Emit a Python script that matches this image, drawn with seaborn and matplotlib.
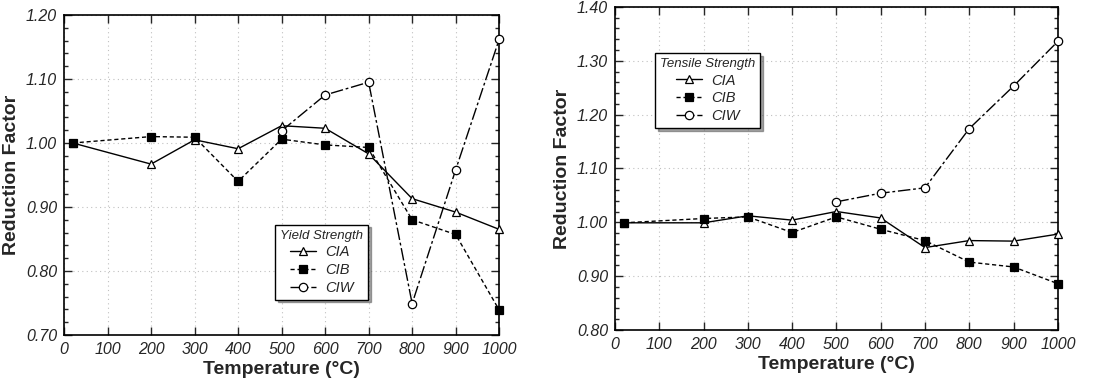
import numpy as np
import pandas as pd
import matplotlib
matplotlib.use("Agg")
import matplotlib.pyplot as plt
from matplotlib.ticker import MultipleLocator
import seaborn as sns

# data
temps = [20, 200, 300, 400, 500, 600, 700, 800, 900, 1000]
temps_ciw = [500, 600, 700, 800, 900, 1000]

# Yield strength
ys_cia = [1.000, 0.967, 1.005, 0.991, 1.027, 1.023, 0.983, 0.913, 0.892, 0.865]
ys_cib = [1.000, 1.010, 1.009, 0.940, 1.006, 0.997, 0.993, 0.880, 0.857, 0.739]
ys_ciw = [1.019, 1.075, 1.095, 0.749, 0.958, 1.162]

# Tensile strength
ts_cia = [0.999, 0.999, 1.012, 1.004, 1.020, 1.008, 0.953, 0.966, 0.965, 0.978]
ts_cib = [0.999, 1.007, 1.010, 0.981, 1.010, 0.987, 0.966, 0.926, 0.917, 0.886]
ts_ciw = [1.038, 1.054, 1.064, 1.174, 1.253, 1.336]

sns.set_style("ticks")
plt.rcParams["font.family"] = ["Liberation Sans", "DejaVu Sans"]

fig = plt.figure(figsize=(11.1, 3.85), dpi=100)
ax1 = fig.add_axes([0.0577, 0.130, 0.392, 0.831])
ax2 = fig.add_axes([0.554, 0.143, 0.399, 0.839])

styles = {
    "CIA": dict(marker="^", linestyle="-", markerfacecolor="white"),
    "CIB": dict(marker="s", linestyle=(0, (3, 2)), markerfacecolor="black"),
    "CIW": dict(marker="o", linestyle=(0, (9, 2, 2, 2)), markerfacecolor="white"),
}


def draw(ax, cia, cib, ciw, ylim, title, legend_anchor):
    series = [("CIA", temps, cia), ("CIB", temps, cib), ("CIW", temps_ciw, ciw)]
    for name, x, y in series:
        df = pd.DataFrame({"Temperature": x, "Factor": y})
        sns.lineplot(data=df, x="Temperature", y="Factor", ax=ax, color="black",
                     linewidth=1.0, markersize=6, markeredgecolor="black",
                     markeredgewidth=0.9, label=name, clip_on=False, zorder=3,
                     **styles[name])
    ax.set_xlim(0, 1000)
    ax.set_ylim(*ylim)
    ax.xaxis.set_major_locator(MultipleLocator(100))
    ax.yaxis.set_major_locator(MultipleLocator(0.1))
    ax.yaxis.set_minor_locator(MultipleLocator(0.02))
    ax.yaxis.set_major_formatter(plt.FuncFormatter(lambda v, p: f"{v:.2f}"))
    ax.tick_params(which="both", direction="in", top=True, right=True,
                   labelsize=11.5, width=1.0)
    ax.tick_params(which="major", length=6, pad=5)
    ax.tick_params(which="minor", length=3)
    for lab in ax.get_xticklabels() + ax.get_yticklabels():
        lab.set_fontstyle("italic")
    ax.grid(True, which="major", linestyle=(0, (1, 3)), color="#c0c0c0", linewidth=0.8)
    for s in ax.spines.values():
        s.set_linewidth(1.2)
        s.set_color("black")
    ax.set_xlabel("Temperature (°C)", fontsize=14, fontweight="bold", labelpad=3)
    ax.set_ylabel("Reduction Factor", fontsize=14, fontweight="bold", labelpad=4)
    leg = ax.legend(title=title, loc="upper left", bbox_to_anchor=legend_anchor,
                    frameon=True, fancybox=False, shadow=True, fontsize=10.5,
                    handlelength=1.8, handletextpad=0.6, labelspacing=0.25,
                    borderpad=0.35, borderaxespad=0)
    leg.get_title().set_fontstyle("italic")
    leg.get_title().set_fontsize(9.5)
    for t in leg.get_texts():
        t.set_fontstyle("italic")
    leg.get_frame().set_edgecolor("black")
    leg.get_frame().set_linewidth(1.0)
    leg.set_zorder(5)


draw(ax1, ys_cia, ys_cib, ys_ciw, (0.70, 1.20), "Yield Strength", (0.485, 0.345))
draw(ax2, ts_cia, ts_cib, ts_ciw, (0.80, 1.40), "Tensile Strength", (0.09, 0.858))

fig.savefig("out.png", dpi=100)
